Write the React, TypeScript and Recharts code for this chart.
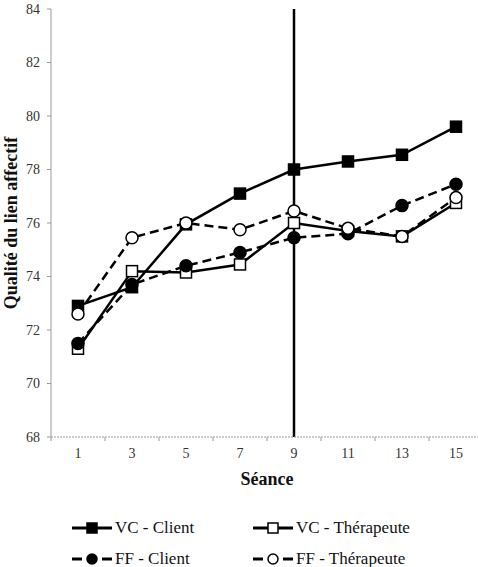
import React from "react";
import { LineChart, Line, XAxis, YAxis, ReferenceLine } from "recharts";

// Séances (axe X) et valeurs
const seances = [1, 3, 5, 7, 9, 11, 13, 15];
const vcClient = [72.9, 73.6, 75.95, 77.1, 78.0, 78.3, 78.55, 79.6];
const vcTherapeute = [71.3, 74.2, 74.15, 74.45, 76.0, 75.7, 75.5, 76.75];
const ffClient = [71.5, 73.7, 74.4, 74.9, 75.45, 75.6, 76.65, 77.45];
const ffTherapeute = [72.6, 75.45, 76.0, 75.75, 76.45, 75.8, 75.5, 76.95];

const yTicks = [68, 70, 72, 74, 76, 78, 80, 82, 84];
const xTickMarks = [0, 2, 4, 6, 8, 10, 12, 14, 16];
const xTicks = [...xTickMarks, ...seances].sort((a, b) => a - b);
const separation = 9;

const FONT = '"Liberation Serif", "Times New Roman", serif';

type Marker = "square" | "circle";

const SERIES: { key: string; name: string; marker: Marker; filled: boolean; dashed: boolean }[] = [
  { key: "vcClient", name: "VC - Client", marker: "square", filled: true, dashed: false },
  { key: "vcTherapeute", name: "VC - Thérapeute", marker: "square", filled: false, dashed: false },
  { key: "ffClient", name: "FF - Client", marker: "circle", filled: true, dashed: true },
  { key: "ffTherapeute", name: "FF - Thérapeute", marker: "circle", filled: false, dashed: true },
];

const data = seances.map((s, i) => ({
  seance: s,
  vcClient: vcClient[i],
  vcTherapeute: vcTherapeute[i],
  ffClient: ffClient[i],
  ffTherapeute: ffTherapeute[i],
}));

function MarkerShape({ cx, cy, marker, filled, size }: { cx: number; cy: number; marker: Marker; filled: boolean; size: number }) {
  const fill = filled ? "#000" : "#fff";
  if (marker === "square") {
    return <rect x={cx - size / 2} y={cy - size / 2} width={size} height={size} fill={fill} stroke="#000" strokeWidth={1.5} />;
  }
  return <circle cx={cx} cy={cy} r={size / 2} fill={fill} stroke="#000" strokeWidth={1.5} />;
}

// tick marks on even values, labels on odd ones (category-style axis)
const XTick = (props: any) => {
  const { x, y, payload } = props;
  const v = payload.value;
  if (v % 2 === 0) {
    return <line x1={x} y1={y - 4} x2={x} y2={y} stroke="#999" strokeWidth={1} />;
  }
  return (
    <text x={x} y={y + 17} textAnchor="middle" fontFamily={FONT} fontSize={14} fill="#333">
      {v}
    </text>
  );
};

function Legend() {
  return (
    <div style={{ position: "absolute", left: 0, top: 0, width: 478, height: 567, pointerEvents: "none" }}>
      {SERIES.map((s, i) => {
        const col = i % 2;
        const row = Math.floor(i / 2);
        const left = col === 0 ? 72 : 253;
        const cy = row === 0 ? 528 : 559;
        return (
          <div key={s.key} style={{ position: "absolute", left, top: cy - 12, height: 24, display: "flex", alignItems: "center" }}>
            <svg width={40} height={16} style={{ display: "block" }}>
              {s.dashed ? (
                <>
                  <line x1={0} y1={8} x2={10} y2={8} stroke="#000" strokeWidth={3} />
                  <line x1={30} y1={8} x2={40} y2={8} stroke="#000" strokeWidth={3} />
                </>
              ) : (
                <line x1={0} y1={8} x2={40} y2={8} stroke="#000" strokeWidth={3} />
              )}
              <MarkerShape cx={20} cy={8} marker={s.marker} filled={s.filled} size={s.marker === "square" ? 10 : 10} />
            </svg>
            <span style={{ fontFamily: FONT, fontSize: 17, color: "#111", marginLeft: 3, whiteSpace: "nowrap" }}>{s.name}</span>
          </div>
        );
      })}
    </div>
  );
}

export default function App() {
  return (
    <div style={{ position: "absolute", left: 0, top: 0, width: 478, height: 567, overflow: "hidden", background: "#fff" }}>
      <LineChart width={490} height={567} data={data} margin={{ top: 9, right: 7, left: 0, bottom: 100 }}>
        <XAxis
          dataKey="seance"
          type="number"
          domain={[0, 16]}
          ticks={xTicks}
          interval={0}
          tick={<XTick />}
          tickLine={false}
          tickSize={4}
          tickMargin={0}
          height={30}
          axisLine={{ stroke: "#999", strokeWidth: 1, strokeDasharray: "2 1" }}
          label={(p: any) => {
            const vb = p.viewBox;
            return (
              <text x={vb.x + vb.width / 2} y={vb.y + vb.height + 18} textAnchor="middle" fontFamily={FONT} fontSize={18} fontWeight="bold" fill="#111">
                Séance
              </text>
            );
          }}
        />
        <YAxis
          type="number"
          domain={[68, 84]}
          ticks={yTicks}
          interval={0}
          width={51}
          tickSize={4}
          tickMargin={7}
          tick={{ fontFamily: FONT, fontSize: 14, fill: "#333" }}
          tickLine={{ stroke: "#999" }}
          axisLine={{ stroke: "#999", strokeWidth: 1 }}
          label={(p: any) => {
            const vb = p.viewBox;
            const cy = vb.y + vb.height / 2;
            return (
              <text transform={`translate(17, ${cy}) rotate(-90)`} textAnchor="middle" fontFamily={FONT} fontSize={18} fontWeight="bold" fill="#111">
                Qualité du lien affectif
              </text>
            );
          }}
        />
        <ReferenceLine x={separation} stroke="#000" strokeWidth={2.5} ifOverflow="extendDomain" />
        {SERIES.map((s) => (
          <Line
            key={s.key}
            type="linear"
            dataKey={s.key}
            name={s.name}
            stroke="#000"
            strokeWidth={2.5}
            strokeDasharray={s.dashed ? "9 5" : undefined}
            dot={(p: any) => (
              <MarkerShape key={`${s.key}-${p.index}`} cx={p.cx} cy={p.cy} marker={s.marker} filled={s.filled} size={s.marker === "square" ? 11 : 12} />
            )}
            activeDot={false}
            isAnimationActive={false}
          />
        ))}
      </LineChart>
      <Legend />
    </div>
  );
}
